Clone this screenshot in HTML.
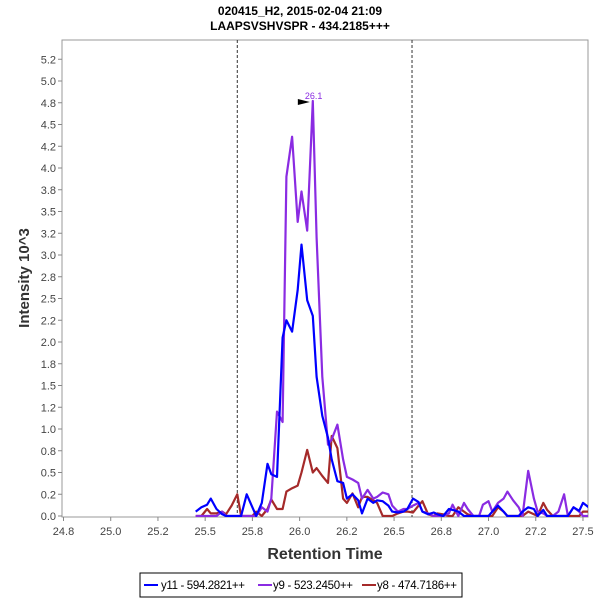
<!DOCTYPE html>
<html><head><meta charset="utf-8"><style>
body{margin:0;background:#fff;font-family:"Liberation Sans",sans-serif}
svg text{font-family:"Liberation Sans",sans-serif}
</style></head><body>
<svg id="chart" width="600" height="600" xmlns="http://www.w3.org/2000/svg">
<rect width="600" height="600" fill="#fff"/>
<text x="300" y="15" text-anchor="middle" font-size="12" font-weight="bold">020415_H2, 2015-02-04 21:09</text>
<text x="300" y="30" text-anchor="middle" font-size="12" font-weight="bold">LAAPSVSHVSPR - 434.2185+++</text>
<defs><clipPath id="pc"><rect x="62" y="40" width="526" height="477"/></clipPath></defs>
<rect x="62" y="40" width="526" height="477" fill="#fff" stroke="#999"/>
<g id="ticks"></g>
<g id="series" clip-path="url(#pc)"></g>
<text transform="translate(29,278) rotate(-90)" text-anchor="middle" font-size="15" font-weight="bold" fill="#333">Intensity 10^3</text>
<text x="325" y="559" text-anchor="middle" font-size="16" font-weight="bold" fill="#333">Retention Time</text>
<g>
<rect x="140" y="573" width="322" height="24" fill="#fff" stroke="#000"/>
<line x1="144" y1="585" x2="158" y2="585" stroke="#0000ff" stroke-width="2"/>
<text x="161" y="589" font-size="11.5" textLength="84">y11 - 594.2821++</text>
<line x1="258" y1="585" x2="272" y2="585" stroke="#8a2be2" stroke-width="2"/>
<text x="273" y="589" font-size="11.5" textLength="80">y9 - 523.2450++</text>
<line x1="362" y1="585" x2="376" y2="585" stroke="#a52a2a" stroke-width="2"/>
<text x="377" y="589" font-size="11.5" textLength="80">y8 - 474.7186++</text>
</g>
</svg>
<script>
const times=[25.45,25.48,25.51,25.53,25.56,25.59,25.61,25.64,25.67,25.69,25.72,25.75,25.77,25.80,25.83,25.85,25.88,25.91,25.93,25.96,25.99,26.01,26.04,26.07,26.09,26.12,26.15,26.17,26.20,26.23,26.25,26.28,26.31,26.33,26.36,26.39,26.41,26.44,26.47,26.49,26.52,26.55,26.57,26.60,26.63,26.65,26.68,26.71,26.73,26.76,26.79,26.81,26.84,26.87,26.89,26.92,26.95,26.97,27.00,27.02,27.05,27.08,27.10,27.13,27.16,27.18,27.21,27.24,27.26,27.29,27.31,27.34,27.37,27.40,27.42,27.45,27.48,27.50,27.53];
const y11=[0.05,0.1,0.13,0.2,0.08,0.02,0,0,0,0,0.25,0.1,0,0.15,0.6,0.48,0.45,2.05,2.25,2.12,2.6,3.12,2.48,2.3,1.6,1.15,0.9,0.65,0.4,0.38,0.2,0.25,0.18,0.03,0.2,0.15,0.18,0.17,0.12,0.05,0.04,0.05,0.08,0.2,0.16,0.05,0.02,0.04,0.02,0,0.08,0.07,0.05,0,0,0,0,0,0,0.05,0.12,0.05,0,0,0,0.05,0.1,0.08,0,0.07,0,0,0,0,0,0.1,0.06,0.15,0.1];
const y9=[0,0,0,0,0,0.05,0,0,0,0,0,0,0,0.1,0.05,0.2,1.2,1.08,3.9,4.36,3.38,3.73,3.28,4.77,3.2,1.6,0.82,0.88,1.05,0.65,0.45,0.42,0.38,0.2,0.3,0.2,0.22,0.27,0.25,0.12,0.05,0.08,0.08,0.12,0.15,0.05,0.03,0,0,0,0.03,0.13,0,0.15,0.08,0,0,0.13,0.17,0.05,0.15,0.2,0.28,0.18,0.1,0,0.52,0.2,0.05,0.03,0,0,0.05,0.25,0,0.1,0.05,0,0];
const y8=[0,0,0.08,0.03,0.03,0.05,0.02,0.12,0.25,0,0,0,0.05,0,0.08,0.19,0.08,0.08,0.28,0.32,0.35,0.5,0.76,0.5,0.55,0.46,0.38,0.92,0.78,0.2,0.15,0.26,0.1,0.22,0.22,0.18,0.15,0,0,0,0.03,0.05,0.05,0.04,0.12,0.17,0.02,0,0.03,0.02,0,0,0.1,0.05,0.02,0,0,0,0,0,0.1,0.05,0,0,0,0,0.05,0.02,0,0.15,0.07,0,0,0,0,0,0,0.05,0.05];
const xTickVals=[24.75,25.0,25.25,25.5,25.75,26.0,26.25,26.5,26.75,27.0,27.25,27.5];
const xTickLabels=["24.8","25.0","25.2","25.5","25.8","26.0","26.2","26.5","26.8","27.0","27.2","27.5"];
const yTickVals=[0,0.25,0.5,0.75,1,1.25,1.5,1.75,2,2.25,2.5,2.75,3,3.25,3.5,3.75,4,4.25,4.5,4.75,5,5.25];
const yTickLabels=["0.0","0.2","0.5","0.8","1.0","1.2","1.5","1.8","2.0","2.2","2.5","2.8","3.0","3.2","3.5","3.8","4.0","4.2","4.5","4.8","5.0","5.2"];
const boundaries=[25.67,26.595];
const peakTime=26.07, peakValue=4.77, peakLabel="26.1";
const NS="http://www.w3.org/2000/svg";
const X=t=>63.5+(t-24.75)*188.9;
const Y=v=>516-v*87;
function mk(tag,attrs,parent){const e=document.createElementNS(NS,tag);for(const k in attrs)e.setAttribute(k,attrs[k]);parent.appendChild(e);return e;}
const tg=document.getElementById('ticks'), sg=document.getElementById('series');
xTickVals.forEach((v,i)=>{
  mk('line',{x1:X(v),x2:X(v),y1:517,y2:521,stroke:'#888'},tg);
  const t=mk('text',{x:X(v),y:535,'text-anchor':'middle','font-size':'11',fill:'#444'},tg);
  t.textContent=xTickLabels[i];
  
  
});
yTickVals.forEach((v,i)=>{
  mk('line',{x1:58,x2:62,y1:Y(v),y2:Y(v),stroke:'#888'},tg);
  const t=mk('text',{x:56,y:Y(v)+4,'text-anchor':'end','font-size':'11',fill:'#444'},tg);
  t.textContent=yTickLabels[i];
  
  
});
boundaries.forEach(b=>{
  const l=mk('line',{x1:X(b),x2:X(b),y1:40,y2:517,stroke:'#333','stroke-dasharray':'3,2'},sg);
  
  
});
function series(vals,color,name){
  const n=Math.min(times.length,vals.length);
  let d='';
  for(let i=0;i<n;i++)d+=(i?'L':'M')+X(times[i]).toFixed(1)+','+Y(vals[i]).toFixed(1);
  const p=mk('path',{d:d,fill:'none',stroke:color,'stroke-width':'2.2','stroke-linejoin':'round'},sg);
  
  
}
series(y8,'#a52a2a','series-y8');
series(y9,'#8a2be2','series-y9');
series(y11,'#0000ff','series-y11');
const px=X(peakTime), py=Y(peakValue);
const tri=mk('polygon',{points:`${px-15},${py-2} ${px-3},${py+1} ${px-15},${py+4}`,fill:'#000'},sg);


const pl=mk('text',{x:px-8,y:py-2,'font-size':'9',fill:'#8a2be2'},document.getElementById('chart'));
pl.textContent=peakLabel;


</script>
</body></html>
